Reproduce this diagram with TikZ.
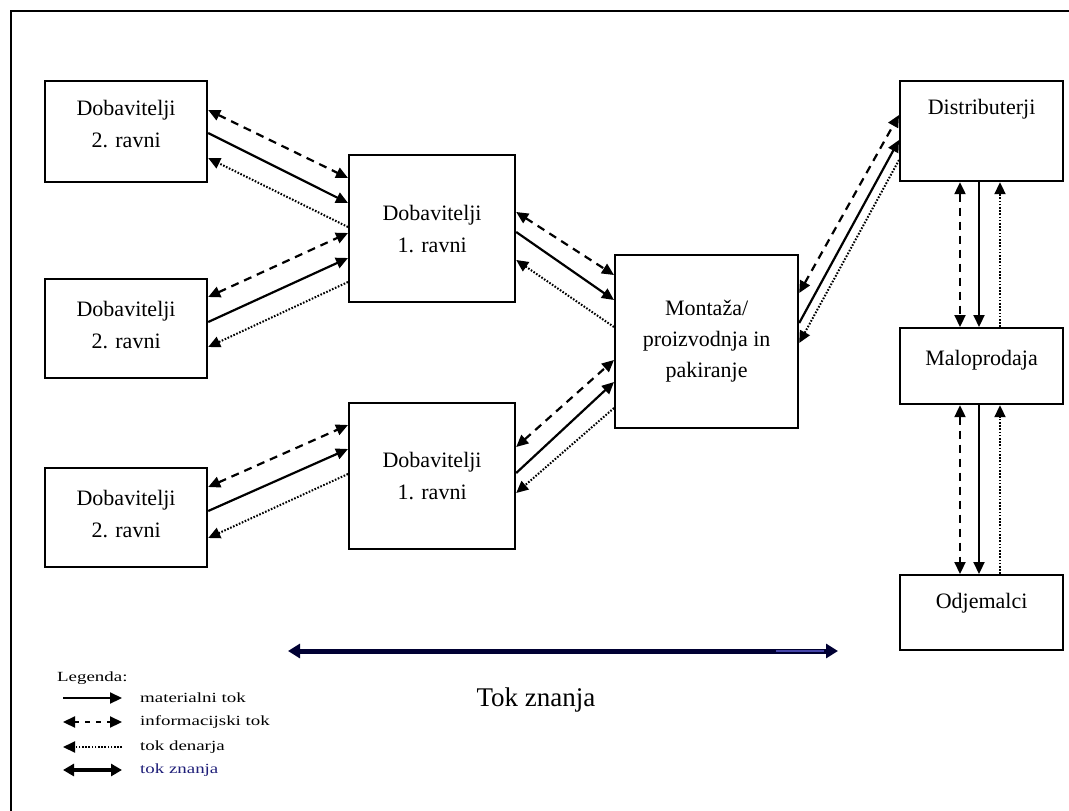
\documentclass[tikz,border=0pt]{standalone}
\usepackage{fontspec}
\setmainfont{Liberation Serif}
\newfontfamily\legfont{Liberation Serif}[FakeStretch=1.35]
\usetikzlibrary{arrows.meta}
\definecolor{navy}{RGB}{0,0,51}
\definecolor{lightnavy}{RGB}{70,70,170}
\definecolor{legblue}{RGB}{30,30,120}
\begin{document}
\begin{tikzpicture}[x=1pt,y=-1pt,
  box/.style={draw,line width=2.2pt,inner sep=0pt,anchor=north west},
  txt/.style={align=center,inner sep=0pt,font=\fontsize{22}{32}\selectfont},
  legtxt/.style={anchor=west,inner sep=0pt,font=\legfont\fontsize{14}{16}\selectfont},
  mat/.style={line width=2.2pt,-{Triangle[length=12pt,width=11pt]}},
  info/.style={line width=2.2pt,dash pattern=on 8pt off 6pt,{Triangle[length=12pt,width=11pt]}-{Triangle[length=12pt,width=11pt]}},
  money/.style={line width=2pt,dash pattern=on 1.6pt off 1.6pt,-{Triangle[length=12pt,width=11pt]}},
  know/.style={line width=5pt,navy,{Triangle[length=12pt,width=14pt]}-{Triangle[length=12pt,width=14pt]}}
]
\useasboundingbox (0,0) rectangle (1069,811);
% frame
\draw[line width=2pt] (11,811) -- (11,11) -- (1069,11);

% boxes
\node[box,minimum width=162pt,minimum height=101pt] (d2a) at (44,80) {};
\node[box,minimum width=162pt,minimum height=99pt] (d2b) at (44,278) {};
\node[box,minimum width=162pt,minimum height=99pt] (d2c) at (44,467) {};
\node[box,minimum width=166pt,minimum height=147pt] (d1a) at (348,154) {};
\node[box,minimum width=166pt,minimum height=146pt] (d1b) at (348,402) {};
\node[box,minimum width=183pt,minimum height=173pt] (mon) at (614,254) {};
\node[box,minimum width=163pt,minimum height=100pt] (dist) at (899,80) {};
\node[box,minimum width=163pt,minimum height=76pt] (malo) at (899,327) {};
\node[box,minimum width=163pt,minimum height=75pt] (odj) at (899,574) {};

% box texts
\node[txt] (t2a) at ([yshift=8pt]d2a.center) {Dobavitelji\\2. ravni};
\node[txt] (t2b) at ([yshift=4pt]d2b.center) {Dobavitelji\\2. ravni};
\node[txt] (t2c) at ([yshift=4pt]d2c.center) {Dobavitelji\\2. ravni};
\node[txt] (t1a) at (d1a.center) {Dobavitelji\\1. ravni};
\node[txt] (t1b) at (d1b.center) {Dobavitelji\\1. ravni};
\node[txt,font=\fontsize{22}{31}\selectfont] (tm) at (mon.center) {Montaža/\\proizvodnja in\\pakiranje};
\node[txt] (td) at ([yshift=22pt]dist.center) {Distributerji};
\node[txt] (tmp) at ([yshift=6pt]malo.center) {Maloprodaja};
\node[txt] (to) at ([yshift=9pt]odj.center) {Odjemalci};

% D2a <-> D1a
\draw[info] ([yshift=-30pt]d2a.north east) -- ([yshift=-24pt]d1a.north west);
\draw[mat] ([yshift=-53pt]d2a.north east) -- ([yshift=-49pt]d1a.north west);
\draw[money] ([yshift=-73pt]d1a.north west) -- ([yshift=-78pt]d2a.north east);
% D2b <-> D1a
\draw[info] ([yshift=-19pt]d2b.north east) -- ([yshift=-79pt]d1a.north west);
\draw[mat] ([yshift=-44pt]d2b.north east) -- ([yshift=-104pt]d1a.north west);
\draw[money] ([yshift=-128pt]d1a.north west) -- ([yshift=-69pt]d2b.north east);
% D2c <-> D1b
\draw[info] ([yshift=-20pt]d2c.north east) -- ([yshift=-23pt]d1b.north west);
\draw[mat] ([yshift=-44pt]d2c.north east) -- ([yshift=-47pt]d1b.north west);
\draw[money] ([yshift=-72pt]d1b.north west) -- ([yshift=-71pt]d2c.north east);
% D1a <-> Mon
\draw[info] ([yshift=-58pt]d1a.north east) -- ([yshift=-21pt]mon.north west);
\draw[mat] ([yshift=-78pt]d1a.north east) -- ([yshift=-46pt]mon.north west);
\draw[money] ([yshift=-73pt]mon.north west) -- ([yshift=-106pt]d1a.north east);
% D1b <-> Mon
\draw[info] ([yshift=-45pt]d1b.north east) -- ([yshift=-106pt]mon.north west);
\draw[mat] ([yshift=-71pt]d1b.north east) -- ([yshift=-128pt]mon.north west);
\draw[money] ([yshift=-154pt]mon.north west) -- ([yshift=-91pt]d1b.north east);
% Mon <-> Dist
\draw[info] ([yshift=-39pt]mon.north east) -- ([yshift=-35pt]dist.north west);
\draw[mat] ([yshift=-69pt]mon.north east) -- ([yshift=-60pt]dist.north west);
\draw[money] ([yshift=-80pt]dist.north west) -- ([yshift=-89pt]mon.north east);
% Dist <-> Malo
\draw[info] ([xshift=61pt]dist.south west) -- ([xshift=61pt]malo.north west);
\draw[mat] ([xshift=80pt]dist.south west) -- ([xshift=80pt]malo.north west);
\draw[money] ([xshift=101pt]malo.north west) -- ([xshift=101pt]dist.south west);
% Malo <-> Odj
\draw[info] ([xshift=61pt]malo.south west) -- ([xshift=61pt]odj.north west);
\draw[mat] ([xshift=80pt]malo.south west) -- ([xshift=80pt]odj.north west);
\draw[money] ([xshift=101pt]odj.north west) -- ([xshift=101pt]malo.south west);

% knowledge flow
\coordinate (kL) at (288,651);
\coordinate (kR) at (838,651);
\coordinate (kM) at (776,651);
\draw[know] (kL) -- (kR);
\draw[line width=2pt,lightnavy] (kM) -- ([xshift=48pt]kM);
\node[inner sep=0pt,font=\fontsize{27}{30}\selectfont] (tz) at (536,700) {Tok znanja};

% legend
\node[legtxt] (leg) at (57,678) {Legenda:};
\coordinate (l1a) at (63,698); \coordinate (l1b) at (122,698);
\coordinate (l2a) at (63,722); \coordinate (l2b) at (122,722);
\coordinate (l3a) at (63,747); \coordinate (l3b) at (122,747);
\coordinate (l4a) at (63,770); \coordinate (l4b) at (122,770);
\draw[mat] (l1a) -- (l1b);
\draw[info,dash pattern=on 5pt off 6pt] (l2a) -- (l2b);
\draw[money] (l3b) -- (l3a);
\draw[line width=3.2pt,{Triangle[length=11pt,width=12pt]}-{Triangle[length=11pt,width=12pt]}] (l4a) -- (l4b);
\node[legtxt] (lt1) at (140,698) {materialni tok};
\node[legtxt] (lt2) at (140,722) {informacijski tok};
\node[legtxt] (lt3) at (140,747) {tok denarja};
\node[legtxt,text=legblue] (lt4) at (140,770) {tok znanja};
\end{tikzpicture}
\end{document}
